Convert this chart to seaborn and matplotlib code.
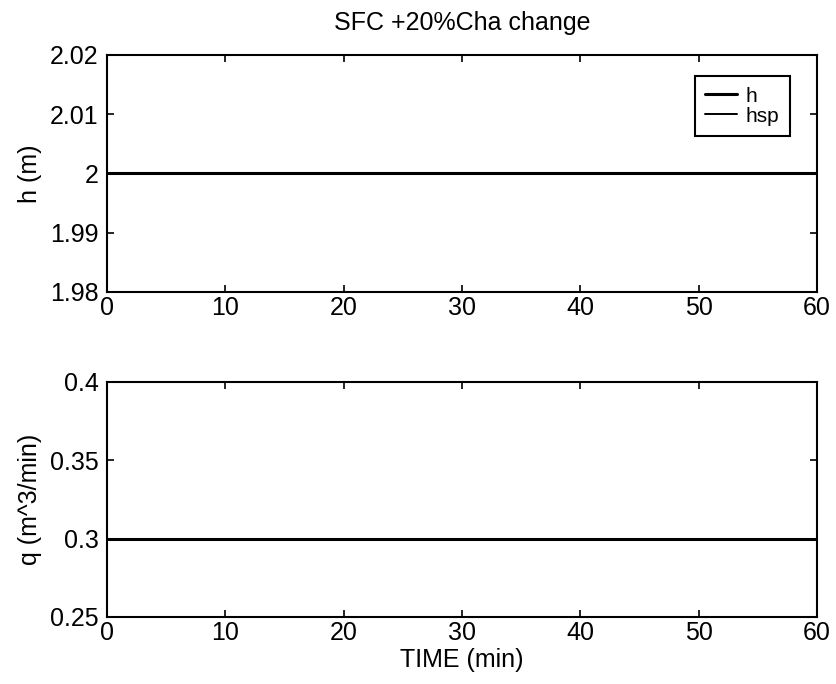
import matplotlib
matplotlib.use("Agg")
import matplotlib.pyplot as plt
import pandas as pd
import seaborn as sns

# Level and flow response of the tank under SFC with +20% Cha change
time_min = [0, 60]
h_level = [2.0, 2.0]
h_setpoint = [2.0, 2.0]
q_flow = [0.3, 0.3]

x_ticks = [0, 10, 20, 30, 40, 50, 60]
h_ticks = [1.98, 1.99, 2.0, 2.01, 2.02]
h_ticklabels = ["1.98", "1.99", "2", "2.01", "2.02"]
q_ticks = [0.25, 0.3, 0.35, 0.4]
q_ticklabels = ["0.25", "0.3", "0.35", "0.4"]

sns.set_style("ticks")
plt.rcParams["font.family"] = ["Liberation Sans", "DejaVu Sans"]
plt.rcParams["text.color"] = "black"
plt.rcParams["axes.labelcolor"] = "black"
plt.rcParams["axes.titlecolor"] = "black"
plt.rcParams["axes.linewidth"] = 1.5
plt.rcParams["xtick.direction"] = "in"
plt.rcParams["ytick.direction"] = "in"

fig = plt.figure(figsize=(8.37, 6.84), dpi=100)
ax1 = fig.add_axes([0.1278, 0.5731, 0.8483, 0.3465])
ax2 = fig.add_axes([0.1278, 0.0980, 0.8483, 0.3436])

df_h = pd.DataFrame({"t": time_min, "h": h_level, "hsp": h_setpoint})
df_q = pd.DataFrame({"t": time_min, "q": q_flow})

sns.lineplot(data=df_h, x="t", y="h", ax=ax1, color="black", linewidth=2.2, label="h")
sns.lineplot(data=df_h, x="t", y="hsp", ax=ax1, color="black", linewidth=1.4, label="hsp")
sns.lineplot(data=df_q, x="t", y="q", ax=ax2, color="black", linewidth=2.2, legend=False)

for ax in (ax1, ax2):
    ax.set_xlim(0, 60)
    ax.set_xticks(x_ticks)
    ax.set_xticklabels([str(v) for v in x_ticks])
    ax.tick_params(axis="both", which="both", direction="in", length=5, width=1.2,
                   top=True, right=True, labelsize=18, colors="black")
    ax.tick_params(axis="x", pad=3)
    ax.tick_params(axis="y", pad=6)
    for s in ax.spines.values():
        s.set_visible(True)
        s.set_color("black")
        s.set_linewidth(1.5)
    ax.set_facecolor("white")

ax1.set_ylim(1.98, 2.02)
ax1.set_yticks(h_ticks)
ax1.set_yticklabels(h_ticklabels)
ax1.set_xlabel("")
ax1.set_ylabel("h (m)", fontsize=18, labelpad=6, color="black")
ax1.set_title("SFC +20%Cha change", fontsize=18, pad=18, color="black")

ax2.set_ylim(0.25, 0.4)
ax2.set_yticks(q_ticks)
ax2.set_yticklabels(q_ticklabels)
ax2.set_xlabel("TIME (min)", fontsize=18, labelpad=2, color="black")
ax2.set_ylabel("q (m^3/min)", fontsize=18, labelpad=6, color="black")

leg = ax1.legend(loc="upper right", bbox_to_anchor=(0.962, 0.911), fontsize=15,
                 frameon=True, fancybox=False, edgecolor="black", framealpha=1,
                 handlelength=1.5, handletextpad=0.45, labelspacing=0.05,
                 borderpad=0.5, borderaxespad=0)
leg.get_frame().set_linewidth(1.5)
for txt in leg.get_texts():
    txt.set_color("black")

fig.savefig("out.png", dpi=100, facecolor="white")
